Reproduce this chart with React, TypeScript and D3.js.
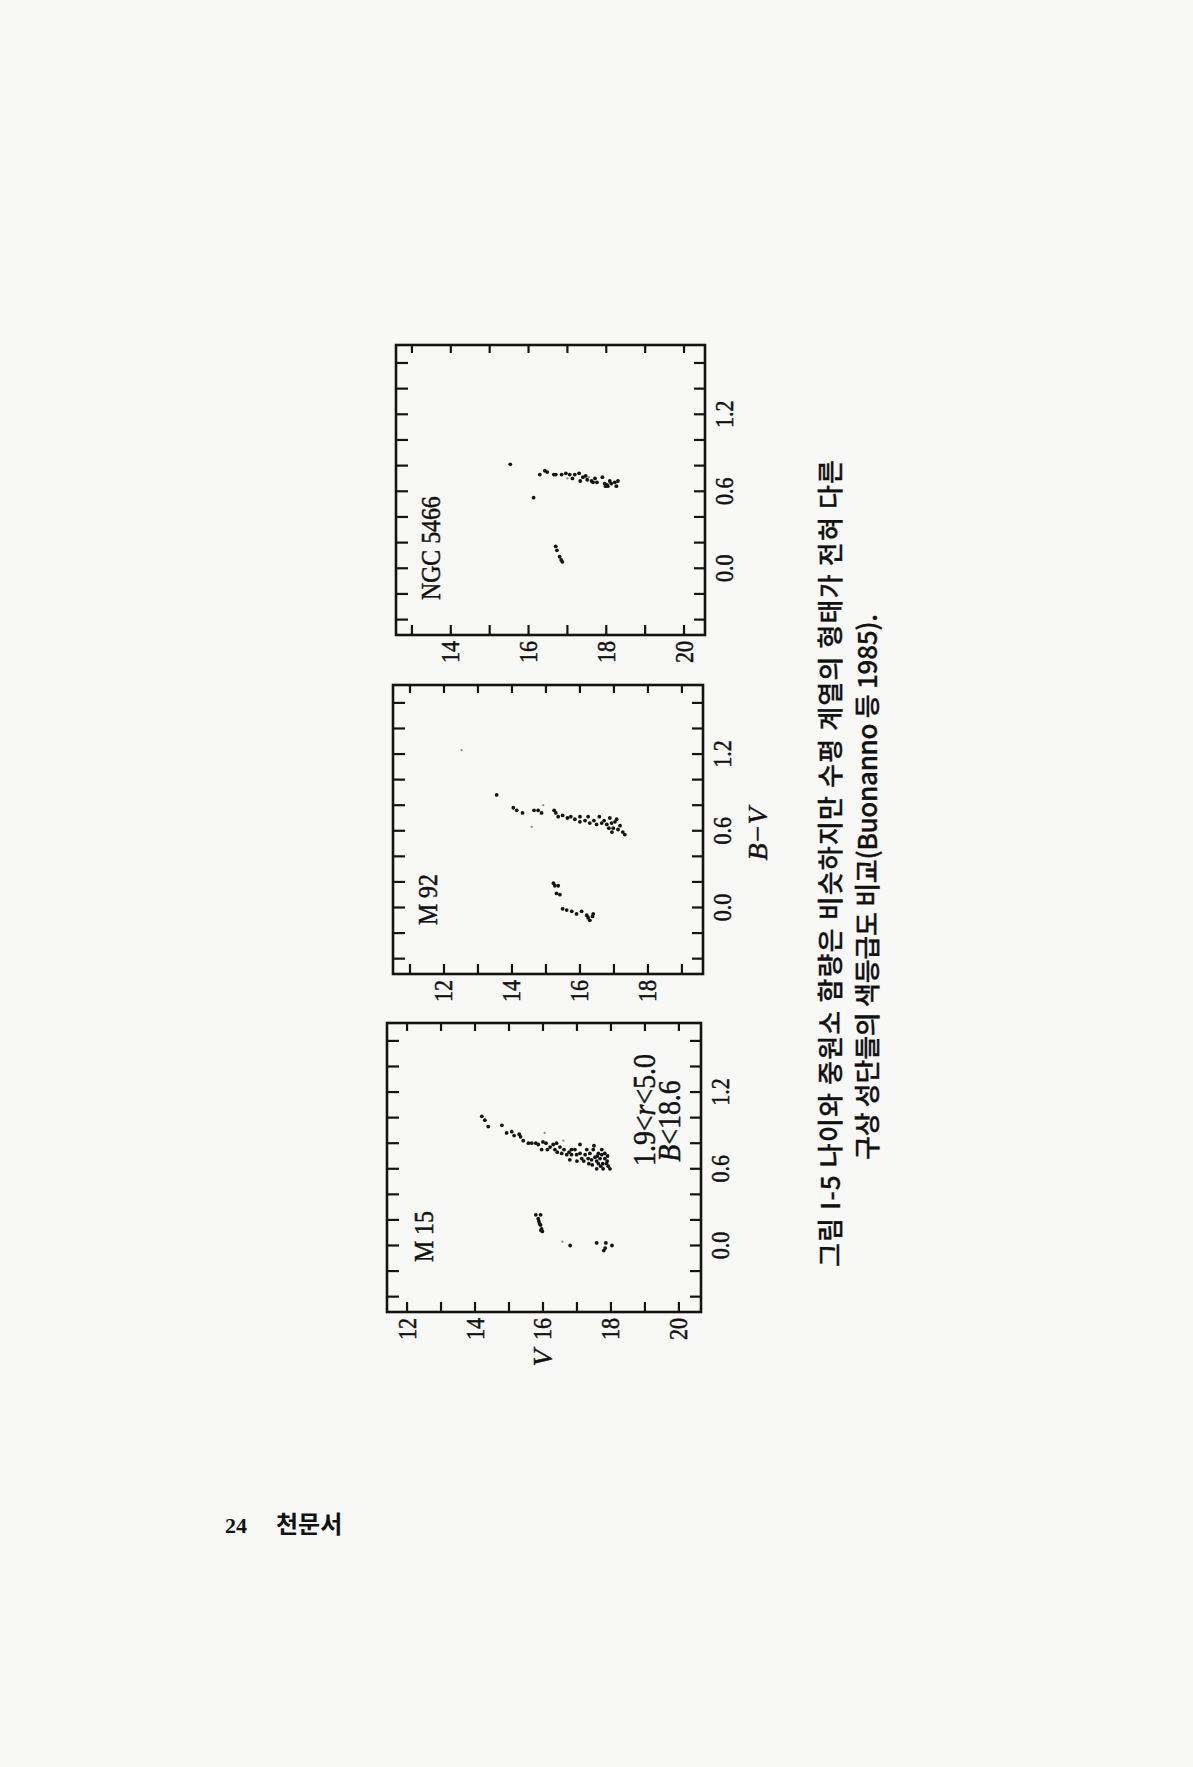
import React from "react";
import * as d3 from "d3";

// ---------- data: [V, B-V] ----------
const M15_RGB: [number, number][] = [
  [14.2, 1.01], [14.29, 0.98], [14.39, 0.93], [14.79, 0.94], [14.93, 0.88], [15.08, 0.89],
  [15.15, 0.86], [15.3, 0.87], [15.34, 0.85], [15.42, 0.82], [15.57, 0.8], [15.67, 0.8],
  [15.79, 0.8], [15.86, 0.79], [15.96, 0.75], [16.09, 0.8], [16.13, 0.75], [16.21, 0.77],
  [16.3, 0.79], [16.35, 0.75], [16.42, 0.73], [16.5, 0.77], [16.55, 0.72], [16.62, 0.75],
  [16.7, 0.71], [16.77, 0.73], [16.84, 0.71], [16.79, 0.67], [16.94, 0.75], [16.99, 0.71],
  [17.09, 0.79], [17.09, 0.72], [17.14, 0.68], [17.24, 0.71], [17.29, 0.75], [17.33, 0.68],
  [17.38, 0.72], [17.43, 0.67], [17.48, 0.75], [17.53, 0.69], [17.58, 0.66], [17.58, 0.6],
  [17.63, 0.72], [17.68, 0.68], [17.73, 0.75], [17.76, 0.64], [17.82, 0.68], [17.87, 0.64],
  [17.77, 0.6], [17.97, 0.6], [17.89, 0.66], [17.73, 0.71], [17.63, 0.64], [16.84, 0.75],
  [17.2, 0.66], [17.45, 0.63], [17.6, 0.7], [17.9, 0.7], [17.5, 0.78], [16.4, 0.8],
  [16.0, 0.81], [17.0, 0.66], [17.7, 0.62], [17.92, 0.62], [17.35, 0.64], [17.82, 0.72],
];
const M15_HB: [number, number][] = [
  [15.79, 0.24], [15.93, 0.24], [15.86, 0.21], [15.88, 0.19], [15.93, 0.16], [15.96, 0.13],
  [15.98, 0.11], [15.94, 0.12], [15.9, 0.17],
  [16.8, 0.0], [17.58, 0.02], [17.85, 0.02], [17.83, -0.02], [17.79, -0.04], [18.03, 0.0],
];
const M15_FAINT: [number, number][] = [[16.57, 0.03], [16.05, 0.88], [16.6, 0.82]];

const M92_RGB: [number, number][] = [
  [13.55, 0.88], [14.04, 0.78], [14.14, 0.76], [14.31, 0.74], [14.65, 0.76], [14.77, 0.76],
  [14.87, 0.74], [15.24, 0.76], [15.29, 0.74], [15.36, 0.71], [15.49, 0.72], [15.63, 0.7],
  [15.73, 0.71], [15.85, 0.69], [16.0, 0.71], [16.0, 0.67], [16.15, 0.68], [16.24, 0.71],
  [16.29, 0.66], [16.41, 0.68], [16.49, 0.65], [16.57, 0.71], [16.64, 0.66], [16.71, 0.68],
  [16.79, 0.65], [16.88, 0.7], [16.93, 0.66], [17.03, 0.67], [16.98, 0.62], [17.18, 0.64],
  [17.26, 0.59], [17.32, 0.57], [17.12, 0.61], [16.94, 0.59], [17.08, 0.69], [16.85, 0.62],
];
const M92_HB: [number, number][] = [
  [15.22, 0.19], [15.26, 0.17], [15.36, 0.17], [15.31, 0.11], [15.41, 0.1], [15.49, -0.01],
  [15.61, -0.02], [15.76, -0.03], [15.9, -0.05], [16.05, -0.03], [16.2, -0.06], [16.29, -0.1],
  [16.37, -0.07], [16.39, -0.05], [16.24, -0.08],
];
const M92_FAINT: [number, number][] = [[12.52, 1.23], [14.58, 0.63], [14.92, 0.8]];

const NGC_RGB: [number, number][] = [
  [15.53, 0.81], [16.13, 0.55], [16.29, 0.73], [16.42, 0.76], [16.48, 0.75], [16.65, 0.73],
  [16.7, 0.73], [16.85, 0.73], [16.96, 0.74], [17.06, 0.73], [17.13, 0.7], [17.19, 0.73],
  [17.3, 0.74], [17.33, 0.68], [17.4, 0.71], [17.47, 0.72], [17.51, 0.69], [17.62, 0.68],
  [17.66, 0.67], [17.71, 0.7], [17.76, 0.67], [17.9, 0.71], [17.96, 0.66], [18.02, 0.65],
  [18.09, 0.68], [18.13, 0.66], [18.22, 0.67], [18.26, 0.64], [18.3, 0.68], [17.98, 0.64],
  [18.04, 0.64],
];
const NGC_HB: [number, number][] = [
  [16.7, 0.17], [16.73, 0.14], [16.8, 0.09], [16.84, 0.065], [16.87, 0.05],
];
const NGC_FAINT: [number, number][] = [[17.0, 0.7], [17.55, 0.71]];

const BV_TICKS = [-0.4, -0.2, 0.0, 0.2, 0.4, 0.6, 0.8, 1.0, 1.2, 1.4, 1.6];
const BV_LABELS = [0.0, 0.6, 1.2];
const M15_V_LABELS = [12, 14, 16, 18, 20];
const M92_V_LABELS = [12, 14, 16, 18];
const NGC_V_LABELS = [14, 16, 18, 20];

const CAPTION_1 = "그림 I-5  나이와 중원소 함량은 비슷하지만 수평 계열의 형태가 전혀 다른";
const CAPTION_2 = "구상 성단들의 색등급도 비교(Buonanno 등 1985).";

// ---------- layout ----------
const BV_DOMAIN = [-0.52, 1.74];
const SERIF = "'Liberation Serif', 'Times New Roman', serif";
const KR = "'Noto Sans CJK KR', 'Noto Sans', sans-serif";

const panels = [
  {
    name: "M 15", rgb: M15_RGB, hb: M15_HB, faint: M15_FAINT, vLabels: M15_V_LABELS,
    x0: 387, x1: 701, y0: 1023, y1: 1312, vDomain: [11.41, 20.65], nameX: 424, nameY: 1262,
  },
  {
    name: "M 92", rgb: M92_RGB, hb: M92_HB, faint: M92_FAINT, vLabels: M92_V_LABELS,
    x0: 393, x1: 703, y0: 685, y1: 974, vDomain: [10.5, 19.62], nameX: 428, nameY: 925,
  },
  {
    name: "NGC 5466", rgb: NGC_RGB, hb: NGC_HB, faint: NGC_FAINT, vLabels: NGC_V_LABELS,
    x0: 396, x1: 705, y0: 345, y1: 635, vDomain: [12.59, 20.54], nameX: 431, nameY: 600,
  },
];

function RotText(props: {
  x: number; y: number; children: React.ReactNode; size: number; anchor?: string;
  family?: string; italic?: boolean; sx?: number; weight?: string | number;
  textLength?: number; stroke?: number;
}) {
  const { x, y, children, size, anchor = "middle", family = SERIF, italic, sx = 1, weight, textLength, stroke = 0.5 } = props;
  return (
    <text
      transform={`translate(${x},${y}) rotate(-90) scale(${sx},1)`}
      textAnchor={anchor}
      dominantBaseline="central"
      fontFamily={family}
      fontSize={size}
      fontStyle={italic ? "italic" : "normal"}
      fontWeight={weight}
      fill="#111"
      stroke="#111"
      strokeWidth={stroke}
      textLength={textLength}
      lengthAdjust={textLength ? "spacing" : undefined}
    >
      {children}
    </text>
  );
}

function Panel({ p }: { p: (typeof panels)[number] }) {
  const xV = d3.scaleLinear().domain(p.vDomain).range([p.x0, p.x1]);
  const yBV = d3.scaleLinear().domain(BV_DOMAIN).range([p.y1, p.y0]);
  const vTicks = d3.range(Math.ceil(p.vDomain[0]), Math.floor(p.vDomain[1]) + 1);
  const ink = "#141414";
  return (
    <g>
      <rect x={p.x0} y={p.y0} width={p.x1 - p.x0} height={p.y1 - p.y0}
        fill="none" stroke={ink} strokeWidth={2.6} />
      {vTicks.map((v) => (
        <g key={"v" + v}>
          <line x1={xV(v)} x2={xV(v)} y1={p.y1} y2={p.y1 - 10} stroke={ink} strokeWidth={2.2} />
          <line x1={xV(v)} x2={xV(v)} y1={p.y0} y2={p.y0 + 8} stroke={ink} strokeWidth={2.2} />
        </g>
      ))}
      {BV_TICKS.map((b) => (
        <g key={"b" + b}>
          <line x1={p.x0} x2={p.x0 + 12} y1={yBV(b)} y2={yBV(b)} stroke={ink} strokeWidth={2.2} />
          <line x1={p.x1} x2={p.x1 - 11} y1={yBV(b)} y2={yBV(b)} stroke={ink} strokeWidth={2.2} />
        </g>
      ))}
      {p.vLabels.map((v) => (
        <RotText key={"vl" + v} x={xV(v)} y={p.y1 + 6} size={25} sx={0.88} anchor="end">{v}</RotText>
      ))}
      {BV_LABELS.map((b) => (
        <RotText key={"bl" + b} x={p.x1 + 20} y={yBV(b)} size={25} sx={0.88}>{b.toFixed(1)}</RotText>
      ))}
      <RotText x={p.nameX} y={p.nameY} size={28} sx={0.85} anchor="start">{p.name}</RotText>
      {p.faint.map((d, i) => (
        <circle key={"f" + i} cx={xV(d[0])} cy={yBV(d[1])} r={1.1} fill="#888" />
      ))}
      {p.rgb.map((d, i) => (
        <circle key={"r" + i} cx={xV(d[0])} cy={yBV(d[1])} r={1.9} fill={ink} />
      ))}
      {p.hb.map((d, i) => (
        <circle key={"h" + i} cx={xV(d[0])} cy={yBV(d[1])} r={1.9} fill={ink} />
      ))}
    </g>
  );
}

export default function App() {
  return (
    <svg width={1193} height={1767} style={{ position: "absolute", left: 0, top: 0 }}>
      <rect x={0} y={0} width={1193} height={1767} fill="#f8f8f7" />
      {panels.map((p) => (
        <Panel key={p.name} p={p} />
      ))}
      {/* annotation in M15 */}
      <RotText x={644} y={1110} size={31} sx={0.9}>
        1.9&lt;<tspan fontStyle="italic">r</tspan>&lt;5.0
      </RotText>
      <RotText x={669} y={1121} size={31} sx={0.9}>
        <tspan fontStyle="italic">B</tspan>&lt;18.6
      </RotText>
      {/* axis titles */}
      <RotText x={542} y={1358} size={28} italic>V</RotText>
      <RotText x={757} y={834} size={28} italic>B−V</RotText>
      {/* caption */}
      <RotText x={828} y={1267} size={26} anchor="start" family={KR} weight={500} stroke={0.3} textLength={807}>{CAPTION_1}</RotText>
      <RotText x={865} y={1160} size={26} anchor="start" family={KR} weight={500} stroke={0.3} textLength={546}>{CAPTION_2}</RotText>
      {/* footer */}
      <text x={225} y={1533} fontFamily={SERIF} fontWeight="bold" fontSize={22} fill="#111">24</text>
      <text x={276} y={1533} fontFamily={KR} fontWeight="bold" fontSize={24} fill="#111">천문서</text>
    </svg>
  );
}
